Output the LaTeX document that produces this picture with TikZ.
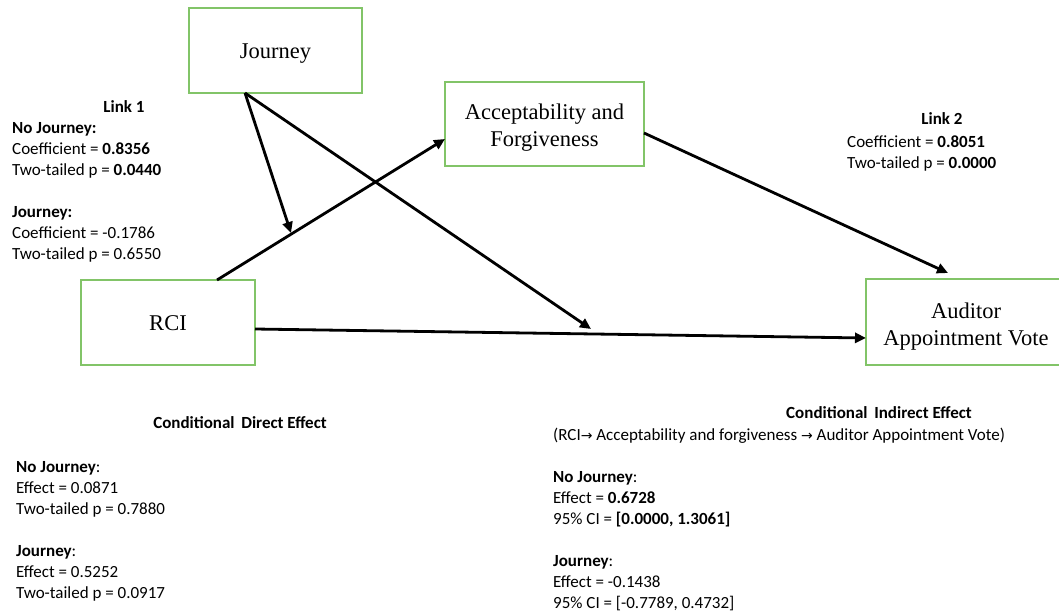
\documentclass[tikz,border=0pt]{standalone}
\usepackage{fontspec}
\setmainfont{Liberation Serif}
\newfontfamily\calib{Carlito}
\newfontfamily\arrowfont{DejaVu Sans}
\usetikzlibrary{arrows.meta}
\definecolor{boxgreen}{RGB}{130,196,104}
\tikzset{
  varbox/.style={draw=boxgreen, line width=1.4pt, fill=white, inner sep=0pt},
  boxtext/.style={align=center, font=\fontsize{22.5}{27}\selectfont, inner sep=0pt},
  path/.style={line width=2.8pt, -{Triangle[length=11pt,width=10pt]}},
  stat/.style={font=\calib\fontsize{17}{21}\selectfont, align=left, inner sep=0pt, anchor=north west},
  stathead/.style={font=\calib\bfseries\fontsize{17}{21}\selectfont, inner sep=0pt}
}
\newcommand{\ra}{{\arrowfont\fontsize{14}{14}\selectfont\char"2192}}
\begin{document}
\begin{tikzpicture}[x=1pt,y=-1pt]
\useasboundingbox (0,0) rectangle (1059,613);
\clip (0,0) rectangle (1059,613);

% variable boxes, labels set a little below the centre
\node[varbox, minimum width=173pt, minimum height=85pt,
  label={[boxtext, yshift=-3pt]center:Journey}] (journey) at (275.5,50.5) {};
\node[varbox, minimum width=199pt, minimum height=84pt,
  label={[boxtext, yshift=-4pt]center:Acceptability and\\Forgiveness}] (accept) at (544.5,124) {};
\node[varbox, minimum width=174pt, minimum height=85pt,
  label={[boxtext, yshift=-1pt]center:RCI}] (rci) at (168,322.5) {};
\node[varbox, minimum width=200pt, minimum height=86pt,
  label={[boxtext, yshift=-5pt]center:Auditor\\Appointment Vote}] (vote) at (966,322) {};

% points where the moderating arrows land
\coordinate (modA) at (291,233);
\coordinate (modB) at (591,329);

% paths
\draw[path] (217,280) -- (445,139);
\draw[path] (644,133) -- (948,273);
\draw[path] (255,329) -- (866,338);
\draw[path] (245,93) -- (modA);
\draw[path] (245,93) -- (modB);

% Link 1 statistics
\node[stathead] (l1) at (124,107) {Link 1};
\node[stat] (l1txt) at (12,122) {%
  \textbf{No Journey:}\\
  Coefficient = \textbf{0.8356}\\
  Two-tailed p = \textbf{0.0440}\\[21pt]
  \textbf{Journey:}\\
  Coefficient = -0.1786\\
  Two-tailed p = 0.6550};

% Link 2 statistics
\node[stathead] (l2) at (942,119) {Link 2};
\node[stat] (l2txt) at (847,136) {%
  Coefficient = \textbf{0.8051}\\
  Two-tailed p = \textbf{0.0000}};

% conditional direct effect
\node[stathead] (cde) at (240,423) {Conditional\, Direct Effect};
\node[stat] (cdetxt) at (16,461) {%
  \textbf{No Journey}:\\
  Effect = 0.0871\\
  Two-tailed p = 0.7880\\[21pt]
  \textbf{Journey}:\\
  Effect = 0.5252\\
  Two-tailed p = 0.0917};

% conditional indirect effect
\node[stathead] (cie) at (879,413) {Conditional\, Indirect Effect};
\node[stat] (cietxt) at (553,428) {%
  (RCI\ra\ Acceptability and forgiveness \ra\ Auditor Appointment Vote)\\[21pt]
  \textbf{No Journey}:\\
  Effect = \textbf{0.6728}\\
  95\% CI = \textbf{[0.0000, 1.3061]}\\[21pt]
  \textbf{Journey}:\\
  Effect = -0.1438\\
  95\% CI = [-0.7789, 0.4732]};
\end{tikzpicture}
\end{document}
